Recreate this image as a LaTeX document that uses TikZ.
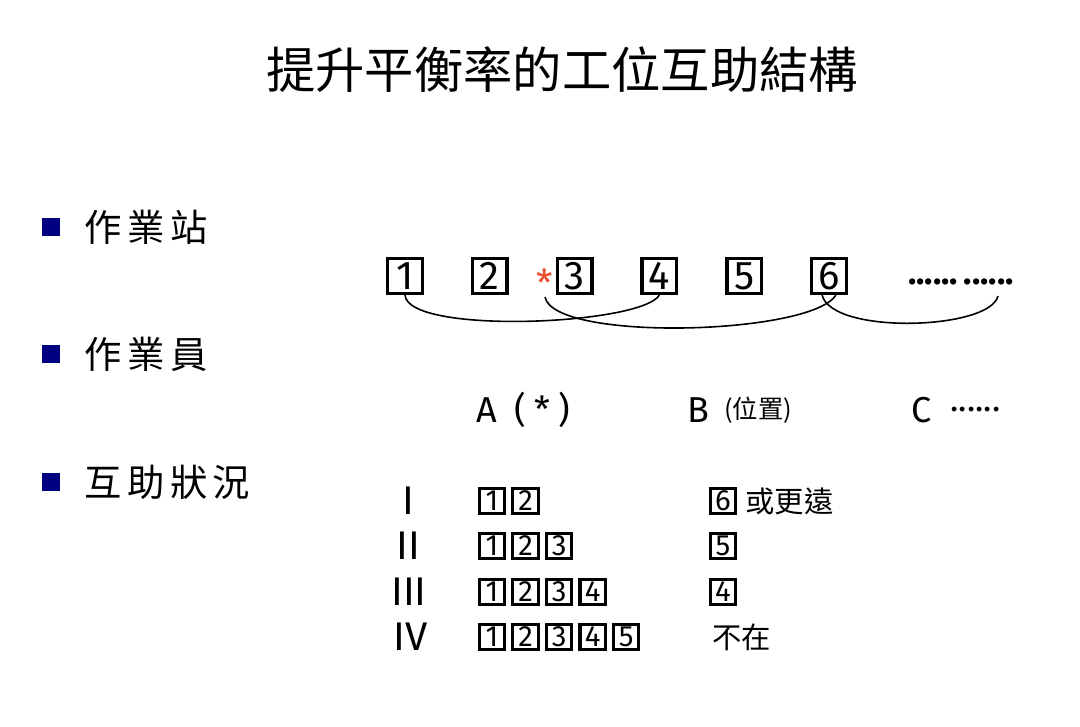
\documentclass[tikz,border=0pt]{standalone}
\usepackage{fontspec}
\newfontfamily\cjk{Noto Sans CJK TC}
\newfontfamily\hand{Fira Sans}
\usepackage{tikz}
\usetikzlibrary{positioning}
\definecolor{bulletnavy}{RGB}{0,0,128}
\definecolor{starred}{RGB}{232,76,43}

\begin{document}
\begin{tikzpicture}[x=0.75pt,y=-0.75pt,
  node distance=3.75pt,
  station/.style={rectangle,draw,line width=2.6pt,minimum size=26pt,inner sep=0pt,font=\hand\fontsize{30}{30}\selectfont},
  cell/.style={rectangle,draw,line width=2.4pt,minimum size=19pt,inner sep=0pt,font=\hand\fontsize{22}{22}\selectfont},
  bullet/.style={rectangle,fill=bulletnavy,minimum size=14pt,inner sep=0pt},
  item/.style={anchor=west,inner sep=0pt,font=\cjk\fontsize{28}{28}\selectfont},
  roman/.style={inner sep=0pt,font=\hand\fontsize{30}{30}\selectfont},
  letter/.style={anchor=west,inner sep=0pt,font=\hand\fontsize{27}{27}\selectfont},
  note/.style={anchor=west,inner sep=0pt,font=\cjk\fontsize{22}{22}\selectfont},
  link/.style={line width=1.2pt}]
\useasboundingbox (0,0) rectangle (1080,727);
\node[font=\cjk\fontsize{37}{37}\selectfont] (title) at (562,70) {提升平衡率的工位互助結構};
% bullets
\node[bullet] (b1) at (51,227) {};
\node[item,right=18pt of b1] (t1) {作\hspace{4pt}業\hspace{4pt}站};
\node[bullet] (b2) at (51,354) {};
\node[item,right=18pt of b2] (t2) {作\hspace{4pt}業\hspace{4pt}員};
\node[bullet] (b3) at (51,482) {};
\node[item,right=18pt of b3] (t3) {互\hspace{4pt}助\hspace{4pt}狀\hspace{4pt}況};
% stations
\node[station] (s1) at (405,276) {1};
\node[station,right=35pt of s1] (s2) {2};
\node[station,right=35pt of s2] (s3) {3};
\node[station,right=35pt of s3] (s4) {4};
\node[station,right=35pt of s4] (s5) {5};
\node[station,right=35pt of s5] (s6) {6};
\node[inner sep=0pt,text=starred,font=\hand\fontsize{28}{28}\selectfont] (ast) at (545,283) {*};
\node[anchor=base west,inner sep=0pt,font=\hand\bfseries\fontsize{26}{26}\selectfont] (dots) at (908,284) {......\,......};
\coordinate (dotend) at (998,296);
\draw[link] (s1.south) .. controls +(3,40) and +(-18,30) .. (s4.south);
\draw[link] (ast.south) .. controls +(9,45) and +(-25,40) .. (s6.-70);
\draw[link] (s6.-110) .. controls +(10,40) and +(-8,34) .. (dotend);
% operators
\node[letter] (opA) at (476,410) {A};
\node[letter,right=13pt of opA] (starA) {(\hspace{6pt}*\hspace{6pt})};
\node[letter] (opB) at (687,410) {B};
\node[note,font=\cjk\fontsize{19}{19}\selectfont,right=11pt of opB] (posB) {(位置)};
\node[letter] (opC) at (911,410) {C};
\node[anchor=base west,inner sep=0pt,font=\hand\fontsize{26}{26}\selectfont,right=14pt of opC] (moreC) {......};
% help cases
\node[roman] (n1) at (408,501) {I};
\node[cell] (c11) at (492,501) {1};
\node[cell,right=of c11] (c12) {2};
\node[cell] (c1f) at (723,501) {6};
\node[note,right=6pt of c1f] (far) {或更遠};
\node[roman] (n2) at (408,546) {II};
\node[cell] (c21) at (492,546) {1};
\node[cell,right=of c21] (c22) {2};
\node[cell,right=of c22] (c23) {3};
\node[cell] (c2f) at (723,546) {5};
\node[roman] (n3) at (409,592) {III};
\node[cell] (c31) at (492,592) {1};
\node[cell,right=of c31] (c32) {2};
\node[cell,right=of c32] (c33) {3};
\node[cell,right=of c33] (c34) {4};
\node[cell] (c3f) at (723,592) {4};
\node[roman] (n4) at (411,637) {IV};
\node[cell] (c41) at (492,637) {1};
\node[cell,right=of c41] (c42) {2};
\node[cell,right=of c42] (c43) {3};
\node[cell,right=of c43] (c44) {4};
\node[cell,right=of c44] (c45) {5};
\node[note] (absent) at (712,637) {不在};
\end{tikzpicture}
\end{document}
